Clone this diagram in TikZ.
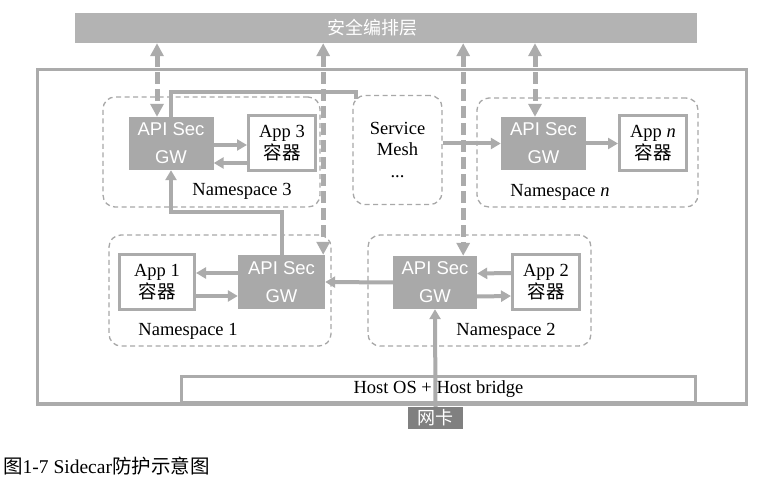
\documentclass[tikz,border=0pt]{standalone}
\usepackage{fontspec}
\setmainfont{Liberation Serif}
\setsansfont{Liberation Sans}
\newfontfamily\cjk{Noto Sans CJK SC}
\usetikzlibrary{arrows.meta, positioning}
\definecolor{linegray}{HTML}{ABABAB}
\definecolor{boxgray}{HTML}{A9A9A9}
\definecolor{bargray}{HTML}{B3B3B3}
\definecolor{nicgray}{HTML}{808080}
\definecolor{nsgray}{HTML}{A8A8A8}

\begin{document}
\begin{tikzpicture}[
    x=1pt, y=-1pt,
    every node/.style={inner sep=0pt, align=center},
    bar/.style={fill=bargray, minimum width=622pt, minimum height=30pt},
    ns/.style={draw=nsgray, line width=1.3pt, dash pattern=on 5pt off 3.5pt, rounded corners=12pt},
    gw/.style={fill=boxgray, text=white, font=\sffamily\fontsize{18.5}{28}\selectfont, minimum width=85pt, minimum height=53pt},
    app/.style={draw=linegray, line width=3pt, fill=white, font=\fontsize{18.5}{22}\selectfont, minimum width=67pt, minimum height=55pt},
    nslabel/.style={font=\fontsize{18.5}{22}\selectfont},
    host/.style={draw=linegray, line width=3pt, fill=white, font=\fontsize{18.5}{22}\selectfont, minimum width=514pt, minimum height=26pt},
    nic/.style={fill=nicgray, text=white, font=\cjk\fontsize{18}{20}\selectfont, minimum width=55pt, minimum height=22pt},
    arrow/.style={-{Triangle[length=10pt,width=11pt]}, draw=linegray, line width=4pt},
    link/.style={draw=linegray, line width=4pt},
    dasharrow/.style={{Triangle[length=13pt,width=13pt]}-{Triangle[length=13pt,width=13pt]}, draw=linegray, line width=5pt, dash pattern=on 12pt off 5pt},
    ]
\useasboundingbox (0,0) rectangle (772,481);

% Couche d'orchestration et hote
\node[bar, label={[text=white, font=\cjk\fontsize{18}{20}\selectfont, xshift=-14pt]center:安全编排层}] (layer) at (386,28) {};
\draw[linegray, line width=3pt] (37,70) rectangle (746,404);
\node[host] (host) at (438.5,389.5) {Host OS + Host bridge};
\node[nic] (nic) at (435.5,418) {网卡};

% Namespaces
\node[ns, minimum width=217pt, minimum height=110pt] (ns3) at (211.5,152) {};
\node[nslabel] (ns3lab) at (242,191) {Namespace 3};
\node[gw] (gw3) at (171,143.5) {API Sec\\GW};
\node[app] (app3) at (282,143.5) {App 3\\{\cjk 容器}};

\node[ns, minimum width=89pt, minimum height=109pt, font=\fontsize{18.5}{21.5}\selectfont] (mesh) at (397.5,150) {Service\\Mesh\\...};

\node[ns, minimum width=221pt, minimum height=109pt] (nsn) at (587.5,152.5) {};
\node[nslabel] (nsnlab) at (560,192) {Namespace \textit{n}};
\node[gw] (gwn) at (543.5,143.5) {API Sec\\GW};
\node[app] (appn) at (653,143.5) {App \textit{n}\\{\cjk 容器}};

\node[ns, minimum width=222pt, minimum height=111pt] (ns1) at (220,290.5) {};
\node[nslabel] (ns1lab) at (188,331) {Namespace 1};
\node[app, minimum width=75pt] (app1) at (157,282) {App 1\\{\cjk 容器}};
\node[gw, minimum width=87pt, minimum height=54pt] (gw1) at (281.5,282) {API Sec\\GW};

\node[ns, minimum width=223pt, minimum height=111pt] (ns2) at (479.5,290.5) {};
\node[nslabel] (ns2lab) at (506,331) {Namespace 2};
\node[gw, minimum width=84pt] (gw2) at (435,282.5) {API Sec\\GW};
\node[app] (app2) at (546,282) {App 2\\{\cjk 容器}};

% Flux internes
\draw[arrow] ([yshift=-1.5pt]gw3.east) -- ([yshift=-1.5pt]app3.west);
\draw[arrow] ([yshift=-19.5pt]app3.west) -- ([yshift=-19.5pt]gw3.east);
\draw[arrow] ([yshift=9pt]gw1.west) -- ([yshift=9pt]app1.east);
\draw[arrow] ([yshift=-14pt]app1.east) -- ([yshift=-14pt]gw1.west);
\draw[arrow] ([yshift=9pt]app2.west) -- ([yshift=9pt]gw2.east);
\draw[arrow] ([yshift=-14pt]gw2.east) -- ([yshift=-14pt]app2.west);
\draw[arrow] (gwn.east) -- (appn.west);
\draw[arrow] (mesh.east |- gwn.west) -- (gwn.west);
\draw[arrow] (gw2.west) -- (gw1.east);
\draw[arrow] (nic.north) -- (gw2.south);
\coordinate (bend) at (0,212);
\draw[arrow] (gw1.north) -- (gw1.north |- bend) -| (gw3.south);
\draw[link] (gw3.north) -- ++(0,-25) -| ([xshift=4pt,yshift=-4pt]mesh.north west);

% Fleches vers la couche de securite
\coordinate (d3) at ([xshift=-14pt]gw3.north);
\coordinate (d1) at ([xshift=-2pt]gw1.north east);
\coordinate (d2) at ([xshift=-14pt]gw2.north east);
\coordinate (dn) at ([xshift=-8.5pt]gwn.north);
\draw[dasharrow] (d3 |- layer.south) -- (d3);
\draw[dasharrow] (d1 |- layer.south) -- (d1);
\draw[dasharrow] (d2 |- layer.south) -- (d2);
\draw[dasharrow] (dn |- layer.south) -- (dn);

% Legende
\node[anchor=west, font=\fontsize{19.5}{22}\selectfont] (caption) at (3,466) {{\cjk 图}1-7 Sidecar{\cjk 防护示意图}};

\end{tikzpicture}
\end{document}
